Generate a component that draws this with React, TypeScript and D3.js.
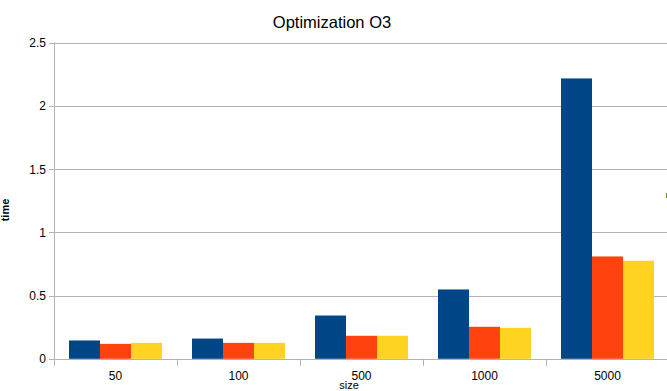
import React from "react";
import * as d3 from "d3";

const categories = ["50", "100", "500", "1000", "5000"];
const seriesNames = ["A", "B", "C"];
const seriesA = [0.145, 0.16, 0.342, 0.548, 2.216];
const seriesB = [0.118, 0.126, 0.182, 0.253, 0.809];
const seriesC = [0.126, 0.126, 0.182, 0.245, 0.775];
const yTicks = [0, 0.5, 1, 1.5, 2, 2.5];
const colors = ["#004586", "#ff420e", "#ffd320"];

export default function App() {
  const W = 667, H = 391;
  const left = 54, right = 669, top = 42.5, bottom = 358.8;
  const x = d3.scaleBand<string>().domain(categories).range([left, right]).paddingInner(0).paddingOuter(0);
  const y = d3.scaleLinear().domain([0, 2.5]).range([bottom, top]);
  const bw = x.bandwidth();
  const groupW = bw * 0.756;
  const x1 = d3.scaleBand<string>().domain(seriesNames).range([0, groupW]);
  const series = [seriesA, seriesB, seriesC];
  const font = "'Liberation Sans', Arial, sans-serif";
  return (
    <svg width={W} height={H} style={{ position: "absolute", left: 0, top: 0, background: "#fff" }} fontFamily={font}>
      <rect x={0} y={0} width={W} height={H} fill="#fff" />
      <text x={332} y={28} textAnchor="middle" fontSize={16.5} fill="#000">Optimization O3</text>
      {yTicks.map((t) => (
        <g key={t}>
          <line x1={left - 5} x2={right} y1={Math.round(y(t)) + 0.5} y2={Math.round(y(t)) + 0.5} stroke="#b3b3b3" />
          <text x={46} y={y(t) + 4.5} textAnchor="end" fontSize={12} fill="#000">{t}</text>
        </g>
      ))}
      <line x1={left + 0.5} x2={left + 0.5} y1={top} y2={bottom + 7} stroke="#b3b3b3" />
      {categories.map((c, i) => (
        <g key={c}>
          <line x1={Math.round(x(c)! + bw) + 0.5} x2={Math.round(x(c)! + bw) + 0.5} y1={bottom} y2={bottom + 7} stroke="#b3b3b3" />
          <text x={x(c)! + bw / 2} y={380} textAnchor="middle" fontSize={12} fill="#000">{c}</text>
          {series.map((s, j) => (
            <rect key={j} x={x(c)! + (bw - groupW) / 2 + x1(seriesNames[j])!} y={y(s[i])} width={x1.bandwidth()} height={bottom - y(s[i])} fill={colors[j]} />
          ))}
        </g>
      ))}
      <text x={349} y={389} textAnchor="middle" fontSize={11} fill="#000">size</text>
      <text transform="translate(9,210) rotate(-90)" textAnchor="middle" fontSize={11} fontWeight="bold" fill="#000">time</text>
      <rect x={666} y={193} width={5} height={5} fill="#579d1c" />
    </svg>
  );
}
